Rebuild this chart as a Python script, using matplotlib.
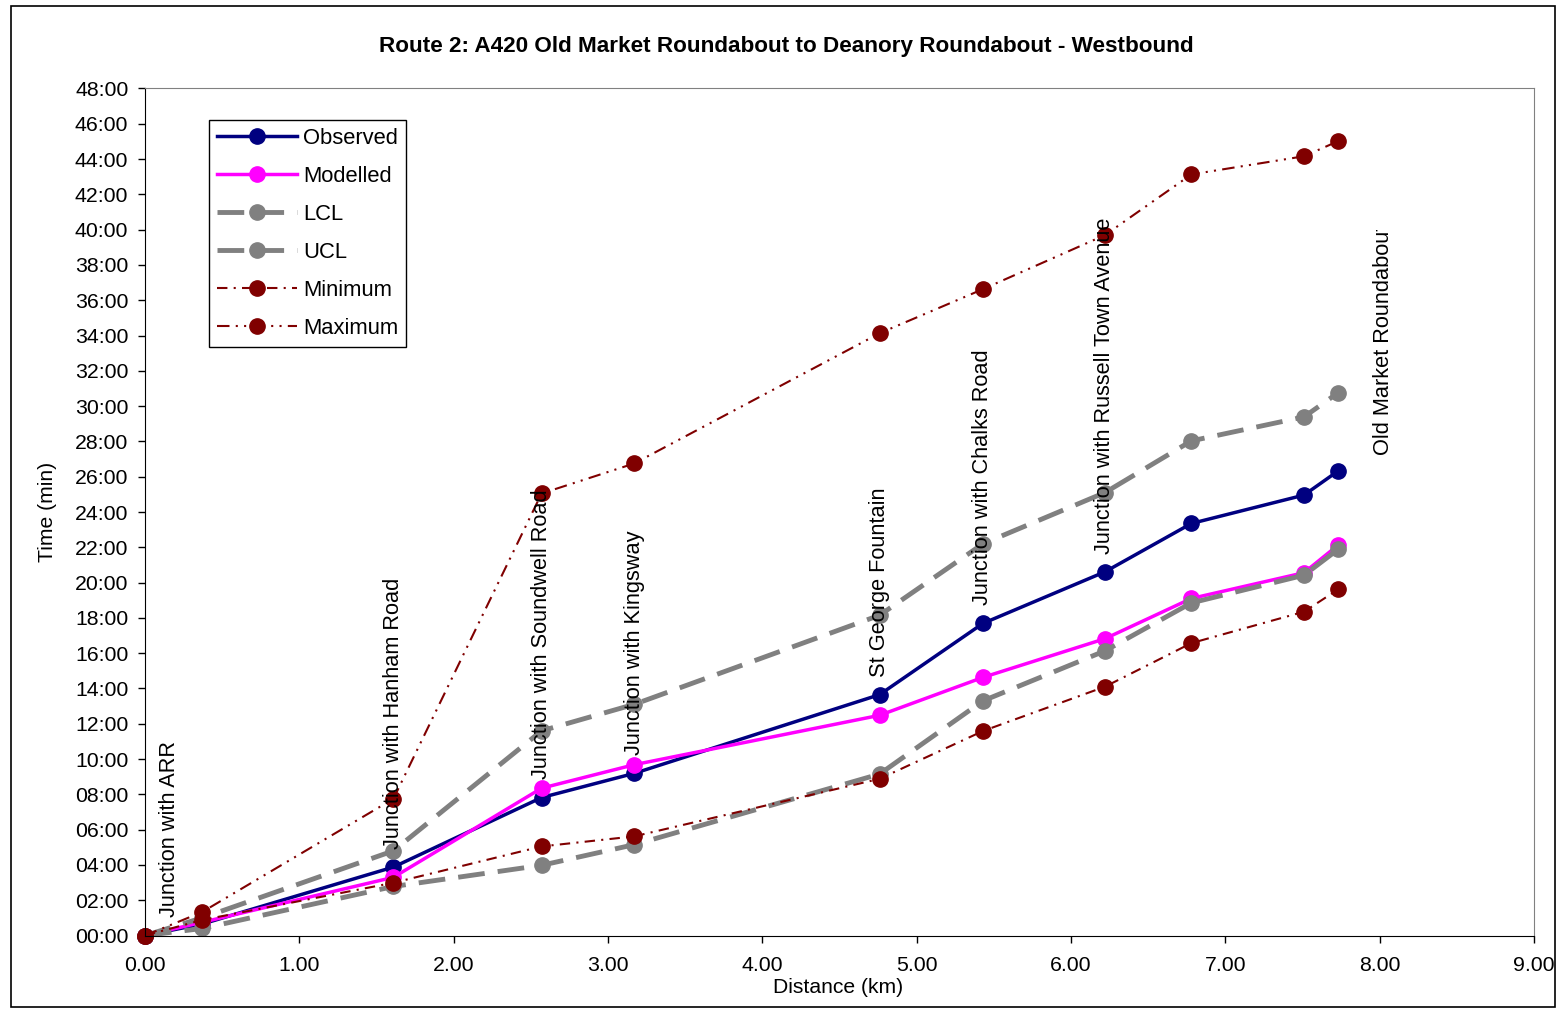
import matplotlib
matplotlib.use('Agg')
import matplotlib.pyplot as plt
from matplotlib.patches import Rectangle
from matplotlib.ticker import FuncFormatter, MultipleLocator
from matplotlib.transforms import Bbox, TransformedBbox

plt.rcParams['font.family'] = ['Liberation Sans', 'DejaVu Sans']

# distance along route (km) and cumulative journey time (min)
distance = [0.0, 0.37, 1.61, 2.57, 3.17, 4.76, 5.43, 6.22, 6.78, 7.51, 7.73]
observed = [0.0, 0.65, 3.88, 7.82, 9.19, 13.65, 17.69, 20.61, 23.35, 24.96, 26.32]
modelled = [0.0, 0.75, 3.30, 8.35, 9.68, 12.48, 14.63, 16.82, 19.10, 20.56, 22.12]
lcl = [0.0, 0.40, 2.78, 3.98, 5.15, 9.15, 13.30, 16.13, 18.85, 20.42, 21.88]
ucl = [0.0, 1.00, 4.80, 11.60, 13.10, 18.15, 22.20, 25.10, 28.03, 29.39, 30.75]
minimum = [0.0, 0.88, 2.99, 5.05, 5.62, 8.88, 11.59, 14.10, 16.57, 18.35, 19.61]
maximum = [0.0, 1.33, 7.75, 25.05, 26.75, 34.13, 36.63, 39.69, 43.13, 44.16, 45.01]

junctions = ['Junction with ARR', 'Junction with Hanham Road',
             'Junction with Soundwell Road', 'Junction with Kingsway',
             'St George Fountain', 'Junction with Chalks Road',
             'Junction with Russell Town Avenue', 'Old Market Roundabout']
junction_idx = [0, 2, 3, 4, 5, 6, 7, 10]

fig = plt.figure(figsize=(15.57, 10.09), dpi=100)
ax = fig.add_axes([0.0931, 0.0728, 0.8921, 0.8395])

ms = 11
ax.plot(distance, observed, color='#000080', lw=2.5, marker='o', ms=ms,
        mec='#000080', label='Observed', clip_on=False)
ax.plot(distance, modelled, color='#FF00FF', lw=2.5, marker='o', ms=ms,
        mec='#FF00FF', label='Modelled', clip_on=False)
ax.plot(distance, lcl, color='#808080', lw=3.5, dashes=(5.5, 2.7), marker='o',
        ms=ms, mec='#808080', label='LCL', clip_on=False)
ax.plot(distance, ucl, color='#808080', lw=3.5, dashes=(5.5, 2.7), marker='o',
        ms=ms, mec='#808080', label='UCL', clip_on=False)
ax.plot(distance, minimum, color='#800000', lw=1.5, dashes=(5, 3, 1, 3),
        marker='o', ms=ms, mec='#800000', label='Minimum', clip_on=False)
ax.plot(distance, maximum, color='#800000', lw=1.5, dashes=(6, 3, 1, 3, 1, 3),
        marker='o', ms=ms, mec='#800000', label='Maximum', clip_on=False)

# junction names sit above the observed points; the last one is cut off at the top
clip = TransformedBbox(Bbox([[0, 0], [1, (1009 - 230) / 1009]]), fig.transFigure)
for name, i in zip(junctions, junction_idx):
    dx = 0
    dy = 13
    if i == 0:
        dx = 18
    last = i == len(distance) - 1
    if last:
        dx, dy = 33, 11.5
    t = ax.annotate(name, (distance[i], observed[i]), xytext=(dx, dy),
                    textcoords='offset points', rotation=90, ha='center',
                    va='bottom', fontsize=15.7, zorder=10, annotation_clip=False)
    if last:
        t.set_clip_box(clip)
        t.set_clip_on(True)

ax.set_xlim(0, 9)
ax.set_ylim(0, 48)
ax.xaxis.set_major_locator(MultipleLocator(1))
ax.yaxis.set_major_locator(MultipleLocator(2))
ax.xaxis.set_major_formatter(FuncFormatter(lambda v, p: f'{v:.2f}'))
ax.yaxis.set_major_formatter(FuncFormatter(lambda v, p: f'{int(round(v)):02d}:00'))
ax.tick_params(axis='both', labelsize=15.3, direction='out', length=5, width=1)
ax.tick_params(axis='y', pad=7)
ax.tick_params(axis='x', pad=10)
for s in ['top', 'right']:
    ax.spines[s].set_color('#808080')
for s in ['left', 'bottom']:
    ax.spines[s].set_color('black')

ax.set_xlabel('Distance (km)', fontsize=15.2)
ax.xaxis.set_label_coords(0.499, -0.050)
ax.set_ylabel('Time (min)', fontsize=15.2)
ax.yaxis.set_label_coords(-0.063, 0.5)

leg = ax.legend(loc='upper left', bbox_to_anchor=(0.046, 0.963), borderaxespad=0,
                fontsize=15.8, handlelength=3.65, handletextpad=0.28, labelspacing=0.78,
                borderpad=0.35, numpoints=1, fancybox=False, framealpha=1)
leg.get_frame().set_edgecolor('black')
leg.get_frame().set_linewidth(1)

fig.text(0.505, 0.954, 'Route 2: A420 Old Market Roundabout to Deanory Roundabout - Westbound',
         ha='center', va='center', fontsize=16.2, fontweight='bold')

fig.add_artist(Rectangle((11 / 1557, 2 / 1009), 1544 / 1557, 1001 / 1009,
                         transform=fig.transFigure, fill=False, ec='black', lw=1.2))

fig.savefig('out.png', dpi=100)
